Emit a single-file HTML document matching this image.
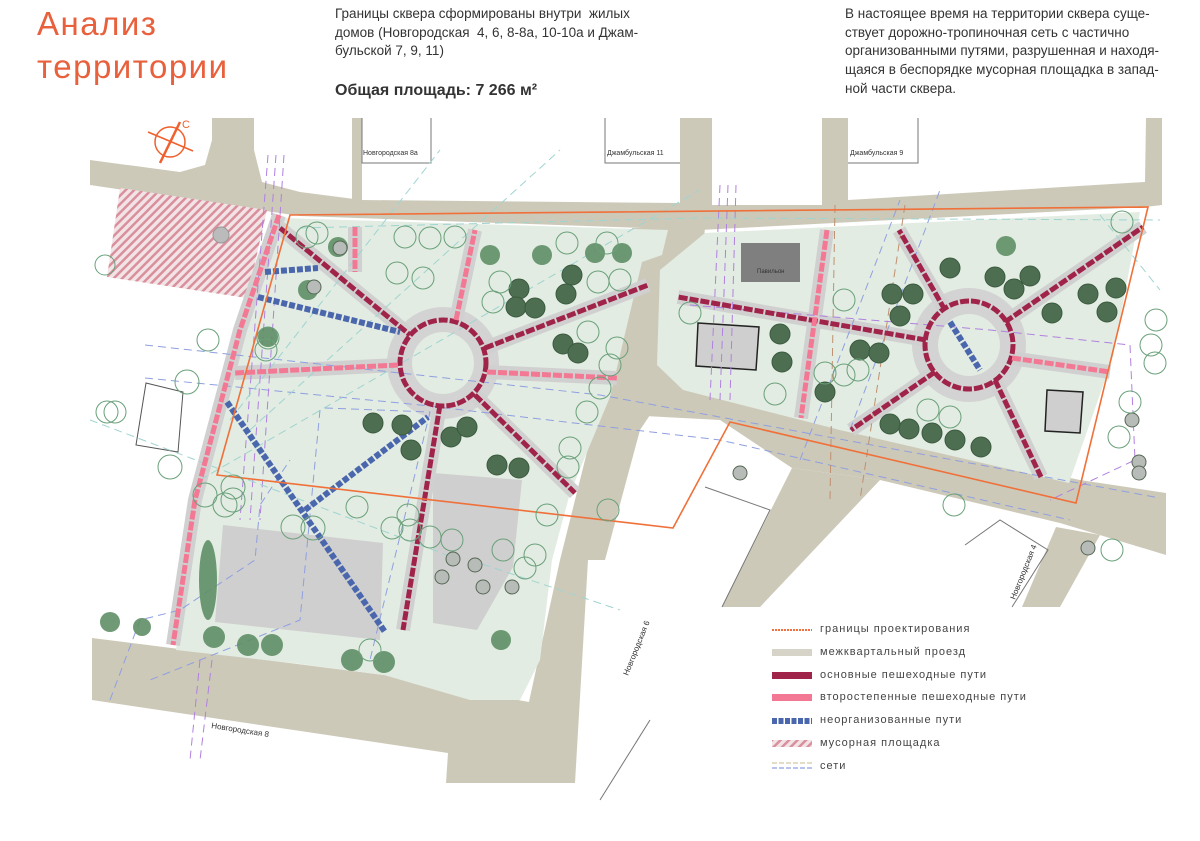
<!DOCTYPE html>
<html><head><meta charset="utf-8"><style>
html,body{margin:0;padding:0;background:#fff;}
body{width:1200px;height:841px;position:relative;overflow:hidden;font-family:"Liberation Sans",sans-serif;}
.t{position:absolute;color:#e8603c;font-size:33px;letter-spacing:1.5px;line-height:43px;left:37px;top:2px;}
.p{position:absolute;color:#333;font-size:13.5px;line-height:18.7px;}
.b{position:absolute;color:#333;font-weight:bold;font-size:16px;left:335px;top:82px;}
.lg{position:absolute;left:820px;font-size:11px;letter-spacing:1px;color:#444;}
svg{position:absolute;left:0;top:0;}
</style></head><body>
<svg width="1200" height="841" viewBox="0 0 1200 841">
<defs>
<pattern id="h" width="6" height="6" patternUnits="userSpaceOnUse" patternTransform="rotate(45)">
<rect width="6" height="6" fill="#f2e4e6"/><rect width="2.5" height="6" fill="#d98f9c"/></pattern>
</defs>
<g fill="#cdc9b9">
<polygon points="90,160 180,172 205,165 212,140 212,118 254,118 254,150 262,182 300,192 362,200 680,203 680,118 712,118 712,205 822,205 822,118 848,118 848,200 1145,182 1146,118 1162,118 1162,205 1145,207 700,230 300,216 90,185"/>
<rect x="352" y="118" width="10" height="85"/>
<polygon points="632,228 705,228 690,385 660,400 640,430 605,560 588,560 575,783 510,783 525,720 560,560 600,400 640,262"/>
<polygon points="655,376 840,430 1080,480 1166,493 1166,555 1060,523 880,480 792,468 720,420 645,416"/>
<polygon points="792,468 880,480 760,607 722,607"/>
<polygon points="1056,527 1100,535 1060,607 1022,607"/>
<polygon points="92,638 384,675 545,705 540,740 510,783 446,783 448,753 92,700"/>
</g>
<polygon points="120,188 267,210 247,298 107,277" fill="url(#h)"/>
<circle cx="221" cy="235" r="8" fill="#bbb" stroke="#999"/>
<!-- parks -->
<polygon points="282,218 668,230 662,255 642,262 610,397 570,493 552,560 540,660 520,700 470,700 384,675 300,664 176,650 195,500 240,330" fill="#e2ece2"/>
<polygon points="705,233 1140,212 1113,357 1069,483 840,430 683,390 657,365 660,270" fill="#e2ece2"/>
<!-- buildings -->
<polygon points="223,525 383,543 380,640 215,622" fill="#cfcfcf"/>
<polygon points="433,473 522,480 513,567 477,630 433,623" fill="#cfcfcf"/>
<rect x="741" y="243" width="59" height="39" fill="#7f7f7f"/>
<text x="757" y="273" font-size="6" fill="#333">Павильон</text>
<polygon points="698,323 759,327 756,370 696,366" fill="#cfcfcf" stroke="#222" stroke-width="1.5"/>
<polygon points="1047,390 1083,392 1080,433 1045,431" fill="#cfcfcf" stroke="#222" stroke-width="1.5"/>
<polygon points="146,383 183,392 178,452 136,445" fill="none" stroke="#555" stroke-width="1"/>
<!-- blocks outlines -->
<g fill="none" stroke="#777" stroke-width="1">
<polyline points="362,118 362,163 431,163 431,118"/>
<polyline points="605,118 605,163 680,163"/>
<polyline points="848,163 918,163 918,118"/>
<polyline points="650,720 600,800"/><polyline points="705,487 770,510 722,607"/>
<polyline points="965,545 1000,520 1048,550 1012,607"/>
</g>
<!-- plazas -->
<circle cx="443" cy="363" r="56" fill="#d3d3d3"/><circle cx="443" cy="363" r="31" fill="#e2ece2"/>
<circle cx="969" cy="345" r="57" fill="#d3d3d3"/><circle cx="969" cy="345" r="31" fill="#e2ece2"/>
<g stroke="#d0d0d0" stroke-width="14" fill="none">
<line x1="280" y1="228" x2="410" y2="335"/><line x1="475" y1="395" x2="575" y2="493"/>
<line x1="440" y1="405" x2="403" y2="630"/><line x1="485" y1="348" x2="648" y2="285"/>
<line x1="487" y1="372" x2="617" y2="378"/><line x1="398" y1="365" x2="235" y2="373"/>
<line x1="456" y1="320" x2="475" y2="230"/><line x1="355" y1="227" x2="355" y2="272"/>
<line x1="926" y1="340" x2="678" y2="297"/><line x1="945" y1="310" x2="899" y2="230"/>
<line x1="1005" y1="322" x2="1143" y2="227"/><line x1="935" y1="372" x2="851" y2="430"/>
<line x1="995" y1="380" x2="1041" y2="477"/><line x1="1010" y1="358" x2="1110" y2="372"/>
<line x1="827" y1="230" x2="801" y2="418"/>
<polyline points="279,215 240,330 195,500 173,645"/>
</g>
<!-- network dashes -->
<g fill="none" stroke-width="1" stroke-dasharray="8,5">
<polyline stroke="#8f9fe0" points="145,345 300,362 600,395 1160,498"/>
<polyline stroke="#8f9fe0" points="145,378 420,405 720,440 1070,520"/>
<polyline stroke="#8f9fe0" points="110,700 140,620 180,610 255,560 260,505 290,460"/>
<polyline stroke="#8f9fe0" points="320,410 300,620 150,680"/>
<polyline stroke="#8f9fe0" points="325,408 430,412 370,660"/>
<line stroke="#8f9fe0" x1="850" y1="430" x2="940" y2="190"/>
<line stroke="#8f9fe0" x1="800" y1="460" x2="900" y2="200"/>
<g stroke="#b080e0"><line x1="268" y1="155" x2="240" y2="520"/><line x1="276" y1="155" x2="250" y2="520"/><line x1="284" y1="155" x2="260" y2="520"/>
<line x1="720" y1="185" x2="710" y2="400"/><line x1="728" y1="185" x2="720" y2="400"/><line x1="736" y1="185" x2="730" y2="400"/>
<polyline points="690,305 990,330 1130,345 1135,460 1050,500"/>
<line x1="200" y1="660" x2="190" y2="760"/><line x1="212" y1="660" x2="200" y2="760"/></g>
<g stroke="#9fd4d0"><line x1="230" y1="420" x2="440" y2="150"/><line x1="250" y1="430" x2="560" y2="150"/>
<line x1="200" y1="480" x2="700" y2="190"/><line x1="90" y1="420" x2="460" y2="560"/><line x1="470" y1="560" x2="620" y2="610"/>
<polyline points="300,228 700,218 1160,220"/><line x1="1100" y1="215" x2="1160" y2="290"/></g>
<g stroke="#c09070"><line x1="835" y1="205" x2="830" y2="500"/><line x1="905" y1="205" x2="860" y2="500"/></g>
</g>
<!-- paths main -->
<g fill="none" stroke="#a0234a" stroke-width="5" stroke-dasharray="9,2">
<circle cx="443" cy="363" r="43"/><circle cx="969" cy="345" r="44"/>
<line x1="280" y1="228" x2="410" y2="335"/><line x1="475" y1="395" x2="575" y2="493"/>
<line x1="440" y1="405" x2="403" y2="630"/><line x1="485" y1="348" x2="648" y2="285"/>
<line x1="926" y1="340" x2="678" y2="297"/><line x1="945" y1="310" x2="899" y2="230"/>
<line x1="1005" y1="322" x2="1143" y2="227"/><line x1="935" y1="372" x2="851" y2="430"/>
<line x1="995" y1="380" x2="1041" y2="477"/>
</g>
<g fill="none" stroke="#f27893" stroke-width="5" stroke-dasharray="9,2">
<line x1="487" y1="372" x2="617" y2="378"/><line x1="398" y1="365" x2="235" y2="373"/>
<line x1="456" y1="320" x2="475" y2="230"/><line x1="355" y1="227" x2="355" y2="272"/>
<line x1="1012" y1="358" x2="1110" y2="372"/><line x1="827" y1="230" x2="801" y2="418"/>
<polyline points="279,215 240,330 195,500 173,645"/>
</g>
<g fill="none" stroke="#4a66ad" stroke-width="6" stroke-dasharray="6,2">
<line x1="265" y1="272" x2="318" y2="268"/><line x1="258" y1="297" x2="400" y2="332"/>
<line x1="227" y1="402" x2="385" y2="632"/><line x1="305" y1="510" x2="428" y2="417"/>
<line x1="950" y1="322" x2="980" y2="370"/>
</g>
<polygon points="290,215 1148,207 1076,503 730,422 673,528 217,475" fill="none" stroke="#f0703a" stroke-width="1.6"/>
<!-- trees dark -->
<g fill="#4e6e52" stroke="#3a5a3e" stroke-width="1">
<circle cx="519" cy="289" r="10"/><circle cx="516" cy="307" r="10"/><circle cx="535" cy="308" r="10"/><circle cx="572" cy="275" r="10"/><circle cx="566" cy="294" r="10"/><circle cx="563" cy="344" r="10"/><circle cx="578" cy="353" r="10"/><circle cx="373" cy="423" r="10"/><circle cx="402" cy="425" r="10"/><circle cx="411" cy="450" r="10"/><circle cx="451" cy="437" r="10"/><circle cx="467" cy="427" r="10"/><circle cx="497" cy="465" r="10"/><circle cx="519" cy="468" r="10"/>
<circle cx="950" cy="268" r="10"/><circle cx="892" cy="294" r="10"/><circle cx="913" cy="294" r="10"/><circle cx="900" cy="316" r="10"/><circle cx="780" cy="334" r="10"/><circle cx="782" cy="362" r="10"/><circle cx="860" cy="350" r="10"/><circle cx="879" cy="353" r="10"/><circle cx="825" cy="392" r="10"/><circle cx="995" cy="277" r="10"/><circle cx="1014" cy="289" r="10"/><circle cx="1030" cy="276" r="10"/><circle cx="1088" cy="294" r="10"/><circle cx="1116" cy="288" r="10"/><circle cx="1052" cy="313" r="10"/><circle cx="1107" cy="312" r="10"/><circle cx="890" cy="424" r="10"/><circle cx="909" cy="429" r="10"/><circle cx="932" cy="433" r="10"/><circle cx="955" cy="440" r="10"/><circle cx="981" cy="447" r="10"/>
</g>
<g fill="#5f8f66" opacity="0.9">
<circle cx="490" cy="255" r="10"/><circle cx="542" cy="255" r="10"/><circle cx="595" cy="253" r="10"/><circle cx="622" cy="253" r="10"/><circle cx="338" cy="247" r="10"/><circle cx="308" cy="290" r="10"/><circle cx="268" cy="337" r="10"/><circle cx="1006" cy="246" r="10"/>
<circle cx="110" cy="622" r="10"/><circle cx="142" cy="627" r="9"/><circle cx="214" cy="637" r="11"/><circle cx="248" cy="645" r="11"/><circle cx="272" cy="645" r="11"/><circle cx="352" cy="660" r="11"/><circle cx="384" cy="662" r="11"/><circle cx="501" cy="640" r="10"/>
<ellipse cx="208" cy="580" rx="9" ry="40"/>
</g>
<g fill="#b8bcb8" stroke="#556655" stroke-width="1">
<circle cx="453" cy="559" r="7"/><circle cx="475" cy="565" r="7"/><circle cx="442" cy="577" r="7"/><circle cx="483" cy="587" r="7"/><circle cx="512" cy="587" r="7"/><circle cx="740" cy="473" r="7"/><circle cx="1088" cy="548" r="7"/><circle cx="1132" cy="420" r="7"/><circle cx="1139" cy="462" r="7"/><circle cx="1139" cy="473" r="7"/><circle cx="340" cy="248" r="7"/><circle cx="314" cy="287" r="7"/>
</g>
<g fill="none" stroke="#6aa07a" stroke-width="1">
<circle cx="307" cy="237" r="11"/><circle cx="317" cy="233" r="11"/><circle cx="405" cy="237" r="11"/><circle cx="430" cy="238" r="11"/><circle cx="455" cy="237" r="11"/><circle cx="397" cy="273" r="11"/><circle cx="423" cy="278" r="11"/><circle cx="500" cy="282" r="11"/><circle cx="493" cy="302" r="11"/><circle cx="567" cy="243" r="11"/><circle cx="607" cy="243" r="11"/><circle cx="598" cy="282" r="11"/><circle cx="620" cy="280" r="11"/><circle cx="588" cy="332" r="11"/><circle cx="617" cy="348" r="11"/><circle cx="610" cy="365" r="11"/><circle cx="600" cy="388" r="11"/><circle cx="587" cy="412" r="11"/><circle cx="570" cy="448" r="11"/><circle cx="568" cy="467" r="11"/><circle cx="357" cy="507" r="11"/><circle cx="392" cy="528" r="11"/><circle cx="408" cy="515" r="11"/><circle cx="410" cy="530" r="11"/><circle cx="430" cy="537" r="11"/><circle cx="452" cy="540" r="11"/><circle cx="503" cy="550" r="11"/><circle cx="535" cy="555" r="11"/><circle cx="525" cy="568" r="11"/><circle cx="547" cy="515" r="11"/><circle cx="293" cy="527" r="12"/><circle cx="313" cy="528" r="12"/><circle cx="233" cy="487" r="12"/><circle cx="233" cy="500" r="12"/><circle cx="170" cy="467" r="12"/><circle cx="205" cy="495" r="12"/><circle cx="225" cy="505" r="12"/>
<circle cx="105" cy="265" r="10"/><circle cx="208" cy="340" r="11"/><circle cx="187" cy="382" r="12"/><circle cx="107" cy="412" r="11"/><circle cx="115" cy="412" r="11"/><circle cx="266" cy="350" r="11"/><circle cx="268" cy="338" r="11"/>
<circle cx="844" cy="300" r="11"/><circle cx="690" cy="313" r="11"/><circle cx="775" cy="394" r="11"/><circle cx="825" cy="373" r="11"/><circle cx="844" cy="375" r="11"/><circle cx="858" cy="370" r="11"/><circle cx="928" cy="410" r="11"/><circle cx="950" cy="417" r="11"/><circle cx="1122" cy="222" r="11"/><circle cx="1156" cy="320" r="11"/><circle cx="1151" cy="345" r="11"/><circle cx="1155" cy="363" r="11"/><circle cx="1130" cy="402" r="11"/><circle cx="1119" cy="437" r="11"/><circle cx="954" cy="505" r="11"/><circle cx="1112" cy="550" r="11"/><circle cx="608" cy="510" r="11"/><circle cx="370" cy="650" r="11"/>
</g>
<!-- compass -->
<g stroke="#f0602c" fill="none" stroke-width="1.5">
<circle cx="170" cy="142" r="15"/><line x1="148" y1="132" x2="193" y2="151"/><line x1="160" y1="163" x2="180" y2="122" stroke-width="2.5"/>
</g>
<text x="182" y="128" font-size="11" fill="#f0602c">С</text>
<g font-size="7" fill="#333">
<text x="363" y="155">Новгородская 8а</text>
<text x="607" y="155">Джамбульская 11</text>
<text x="850" y="155">Джамбульская 9</text>
<text x="211" y="728" font-size="8" transform="rotate(9 211 728)">Новгородская 8</text>
<text x="628" y="676" font-size="8" transform="rotate(-68 628 676)">Новгородская 6</text>
<text x="1015" y="600" font-size="8" transform="rotate(-68 1015 600)">Новгородская 4</text>
</g>
<!-- legend -->
<line x1="772" y1="630" x2="812" y2="630" stroke="#f07040" stroke-width="2" stroke-dasharray="2,1"/>
<rect x="772" y="649" width="40" height="7" fill="#d6d4c8"/>
<rect x="772" y="672" width="40" height="7" fill="#a0234a"/>
<rect x="772" y="694" width="40" height="7" fill="#f27893"/>
<line x1="772" y1="721" x2="812" y2="721" stroke="#4a66ad" stroke-width="6" stroke-dasharray="5,1.5"/>
<rect x="772" y="740" width="40" height="7" fill="url(#h)"/>
<line x1="772" y1="763" x2="812" y2="763" stroke="#d8d2b0" stroke-width="1.5" stroke-dasharray="5,2"/>
<line x1="772" y1="768" x2="812" y2="768" stroke="#a0b0e8" stroke-width="1.5" stroke-dasharray="5,2"/>
</svg>
<div class="t">Анализ<br>территории</div>
<div class="p" style="left:335px;top:5px;">Границы сквера сформированы внутри&nbsp; жилых<br>домов (Новгородская&nbsp; 4, 6, 8-8а, 10-10а и Джам-<br>бульской 7, 9, 11)</div>
<div class="b">Общая площадь: 7 266 м²</div>
<div class="p" style="left:845px;top:5px;">В настоящее время на территории сквера суще-<br>ствует дорожно-тропиночная сеть с частично<br>организованными путями, разрушенная и находя-<br>щаяся в беспорядке мусорная площадка в запад-<br>ной части сквера.</div>
<div class="lg" style="top:623px">границы проектирования</div>
<div class="lg" style="top:646px">межквартальный проезд</div>
<div class="lg" style="top:669px">основные пешеходные пути</div>
<div class="lg" style="top:691px">второстепенные пешеходные пути</div>
<div class="lg" style="top:714px">неорганизованные пути</div>
<div class="lg" style="top:737px">мусорная площадка</div>
<div class="lg" style="top:760px">сети</div>
</body></html>
